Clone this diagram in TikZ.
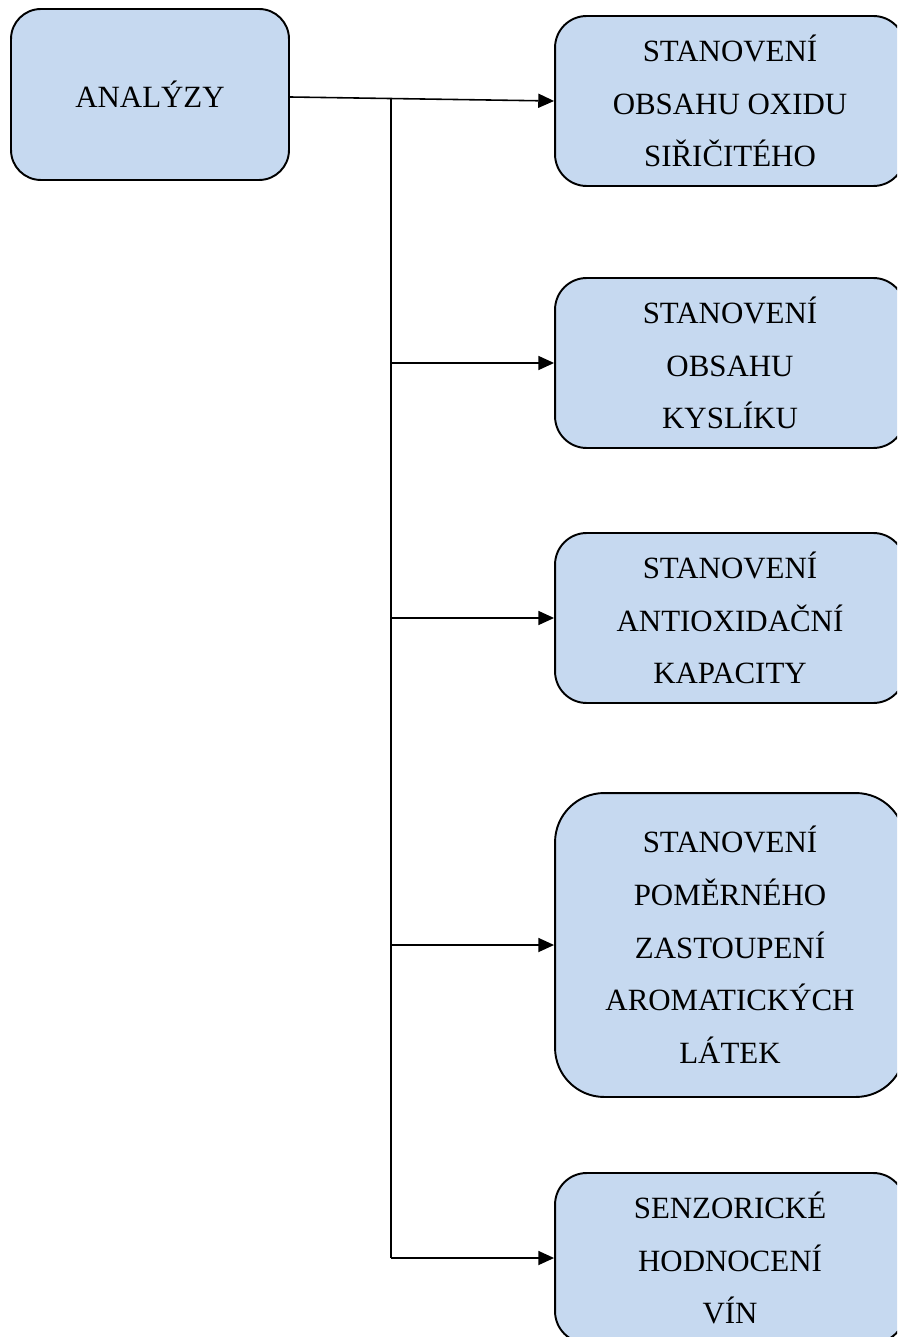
\documentclass[tikz,border=0pt]{standalone}
\usepackage{fontspec}
\setmainfont{Liberation Serif}
\usetikzlibrary{arrows.meta, positioning}
\definecolor{boxblue}{HTML}{C6D9F0}

\begin{document}
\begin{tikzpicture}[
    x=0.02cm, y=-0.02cm,
    font=\fontsize{17.6}{30}\selectfont,
    box/.style={draw=black, fill=boxblue, line width=1.1pt, rounded corners=#1, minimum width=7cm, minimum height=3.4cm, align=center, inner sep=0pt},
    box/.default=18pt,
    arr/.style={-{Triangle[length=9pt, width=8pt]}, line width=0.9pt},
]
\useasboundingbox (0,0) rectangle (897,1337);
\clip (0,0) rectangle (897,1337);

\node[box=17pt, minimum width=5.56cm, minimum height=3.42cm] (ana) at (150,94.5) {ANALÝZY};

\node[box] (so2)  at (730,101) {STANOVENÍ\\OBSAHU OXIDU\\SIŘIČITÉHO};
\node[box] (kysl) at (730,363) {STANOVENÍ\\OBSAHU\\KYSLÍKU};
\node[box] (anti) at (730,618) {STANOVENÍ\\ANTIOXIDAČNÍ\\KAPACITY};
\node[box=28pt, minimum height=6.08cm] (arom) at (730,945) {STANOVENÍ\\POMĚRNÉHO\\ZASTOUPENÍ\\AROMATICKÝCH\\LÁTEK};
\node[box] (senz) at (730,1258) {SENZORICKÉ\\HODNOCENÍ\\VÍN};

\coordinate (jn) at (391,99);

\draw[arr] ([yshift=-2.5*0.02cm]ana.east) -- (so2.west);
\draw[line width=0.9pt] (jn) -- (jn |- senz);
\draw[arr] (jn |- kysl) -- (kysl.west);
\draw[arr] (jn |- anti) -- (anti.west);
\draw[arr] (jn |- arom) -- (arom.west);
\draw[arr] (jn |- senz) -- (senz.west);
\end{tikzpicture}
\end{document}
